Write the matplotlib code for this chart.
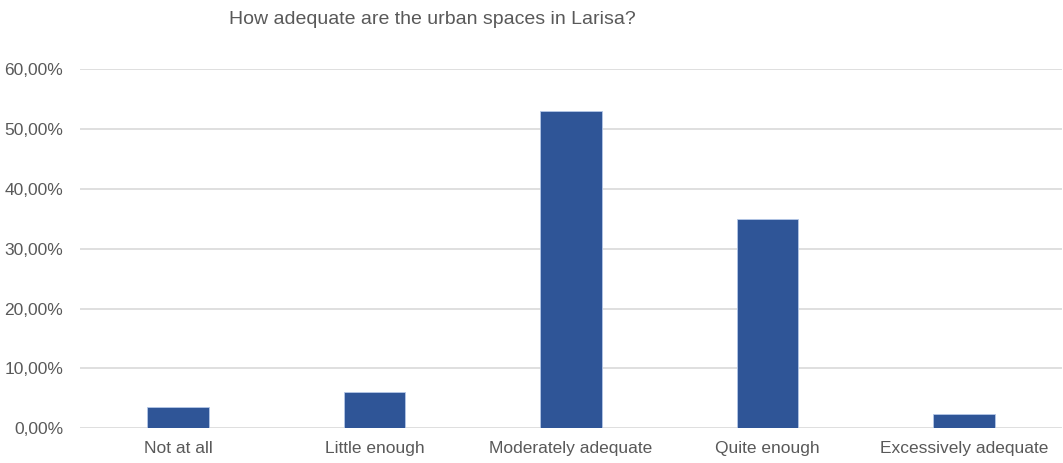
import matplotlib.pyplot as plt
from matplotlib.ticker import FuncFormatter

categories = ['Not at all', 'Little enough', 'Moderately adequate', 'Quite enough', 'Excessively adequate']
shares = [3.6, 6.0, 53.0, 34.9, 2.4]
y_ticks = [0, 10, 20, 30, 40, 50, 60]

plt.rcParams['font.family'] = ['Liberation Sans', 'DejaVu Sans']

fig = plt.figure(figsize=(10.63, 4.63), dpi=100)
ax = fig.add_axes([80 / 1063, 0.0749, 982 / 1063, 0.7762])

x = range(len(categories))
ax.bar(x, shares, width=0.313, color='#2F5597', edgecolor='#B4C7E7', linewidth=0.6, zorder=3)

ax.set_xlim(-0.5, len(categories) - 0.5)
ax.set_ylim(0, 60)
ax.set_yticks(y_ticks)
ax.yaxis.set_major_formatter(FuncFormatter(lambda v, p: f'{v:.2f}%'.replace('.', ',')))
ax.set_xticks(list(x))
ax.set_xticklabels(categories)

ax.grid(axis='y', color='#D9D9D9', linewidth=1.2, zorder=0)
ax.set_axisbelow(True)
for s in ax.spines.values():
    s.set_visible(False)
ax.tick_params(axis='both', length=0, labelsize=12.5, colors='#595959')
ax.tick_params(axis='y', pad=12)
ax.tick_params(axis='x', pad=9)

fig.text(432 / 1063, 1 - 20 / 463, 'How adequate are the urban spaces in Larisa?',
         ha='center', va='center', fontsize=14, color='#595959')

fig.savefig('out.png', dpi=100)
